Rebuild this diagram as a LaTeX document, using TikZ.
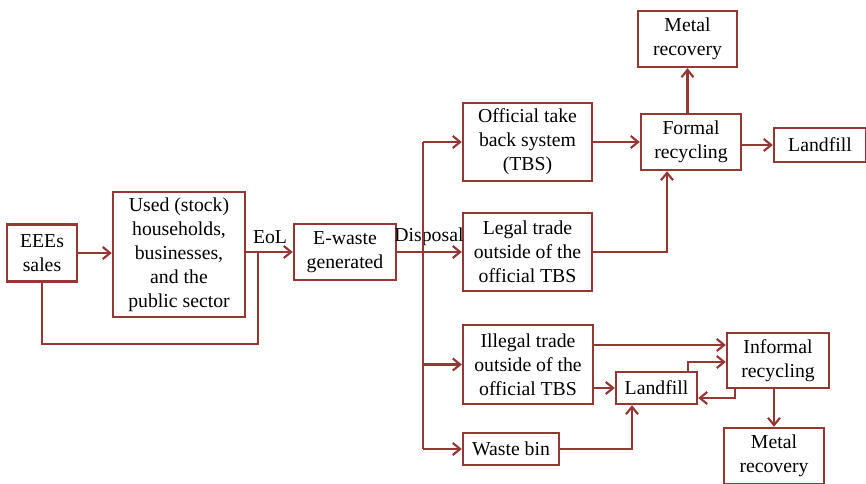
\documentclass[tikz,border=0pt]{standalone}
\usepackage{fontspec}
\setmainfont{Liberation Serif}
\usetikzlibrary{arrows.meta}
\definecolor{dred}{HTML}{953735}
\begin{document}
\begin{tikzpicture}[x=0.75pt,y=-0.75pt,
  box/.style={draw=dred,line width=1.8pt,fill=white,align=center,inner sep=1pt,
    font=\fontsize{14.8}{18}\selectfont,text=black},
  conn/.style={draw=dred,line width=1.8pt},
  arr/.style={conn,-{Straight Barb[length=5.5pt,width=9pt,line width=1.6pt]}},
  lbl/.style={font=\fontsize{14.8}{18}\selectfont,text=black,inner sep=0pt}]
\useasboundingbox (0,0) rectangle (866,484);
\clip (0,0) rectangle (866,484);
% nodes
\node[box,minimum width=70*0.75pt,minimum height=57*0.75pt] (eee) at (42,253) {EEEs\\sales};
\node[box,minimum width=132*0.75pt,minimum height=125*0.75pt] (used) at (179,254.5) {Used (stock)\\households,\\businesses,\\and the\\public sector};
\node[box,minimum width=102*0.75pt,minimum height=56*0.75pt] (ew) at (345,252) {E-waste\\generated};
\node[box,minimum width=129*0.75pt,minimum height=78*0.75pt] (tbs) at (527.5,142) {Official take\\back system\\(TBS)};
\node[box,minimum width=129*0.75pt,minimum height=78*0.75pt] (legal) at (527.5,252) {Legal trade\\outside of the\\official TBS};
\node[box,minimum width=130*0.75pt,minimum height=79*0.75pt] (illegal) at (528,364.5) {Illegal trade\\outside of the\\official TBS};
\node[box,minimum width=96*0.75pt,minimum height=32*0.75pt] (bin) at (511,449) {Waste bin};
\node[box,minimum width=100*0.75pt,minimum height=56*0.75pt] (formal) at (691,142) {Formal\\recycling};
\node[box,minimum width=99*0.75pt,minimum height=56*0.75pt] (metalA) at (687.5,39) {Metal\\recovery};
\node[box,minimum width=92*0.75pt,minimum height=34*0.75pt] (landA) at (820,145) {Landfill};
\node[box,minimum width=81*0.75pt,minimum height=32*0.75pt] (landB) at (656.5,388) {Landfill};
\node[box,minimum width=102*0.75pt,minimum height=55*0.75pt] (informal) at (778,360.5) {Informal\\recycling};
\node[box,minimum width=100*0.75pt,minimum height=56*0.75pt] (metalB) at (774,456) {Metal\\recovery};
% labels
\node[lbl] (eol) at (270,237) {EoL};
\node[lbl] (disp) at (429,237) {Disposal};
% coordinates
\coordinate (fbtop) at (258,252);
\coordinate (fbcorner) at (258,344);
\coordinate (trtop) at (423,142);
\coordinate (trbot) at (423,449);
\coordinate (lgx) at (667,0);
\coordinate (wbx) at (632,0);
\coordinate (lfup) at (688,362);
\coordinate (infdn) at (735,398);
\coordinate (illy) at (0,345);
% connectors
\draw[arr] (eee.east) -- (eee.east -| used.west);
\draw[arr] (used.east |- ew.west) -- (ew.west);
\draw[conn] (eee.south) |- (fbcorner) -- (fbtop);
\draw[arr] (ew.east) -- (legal.west);
\draw[conn] (trtop) -- (trbot);
\draw[arr] (trtop) -- (tbs.west);
\draw[arr] (trtop |- illegal.west) -- (illegal.west);
\draw[arr] (trbot) -- (bin.west);
\draw[arr] (tbs.east) -- (tbs.east -| formal.west);
\draw[arr] (legal.east) -| (lgx |- formal.south);
\draw[arr] (formal.north -| metalA.south) -- (metalA.south);
\draw[arr] (formal.east |- landA.west) -- (landA.west);
\draw[arr] (illegal.east |- illy) -- (informal.west |- illy);
\draw[arr] (illegal.east |- landB.west) -- (landB.west);
\draw[arr] (bin.east) -| (wbx |- landB.south);
\draw[arr] (lfup |- landB.north) |- (lfup -| informal.west);
\draw[arr] (infdn |- informal.south) |- (infdn -| landB.east);
\draw[arr] (informal.south -| metalB.north) -- (metalB.north);
\end{tikzpicture}
\end{document}
